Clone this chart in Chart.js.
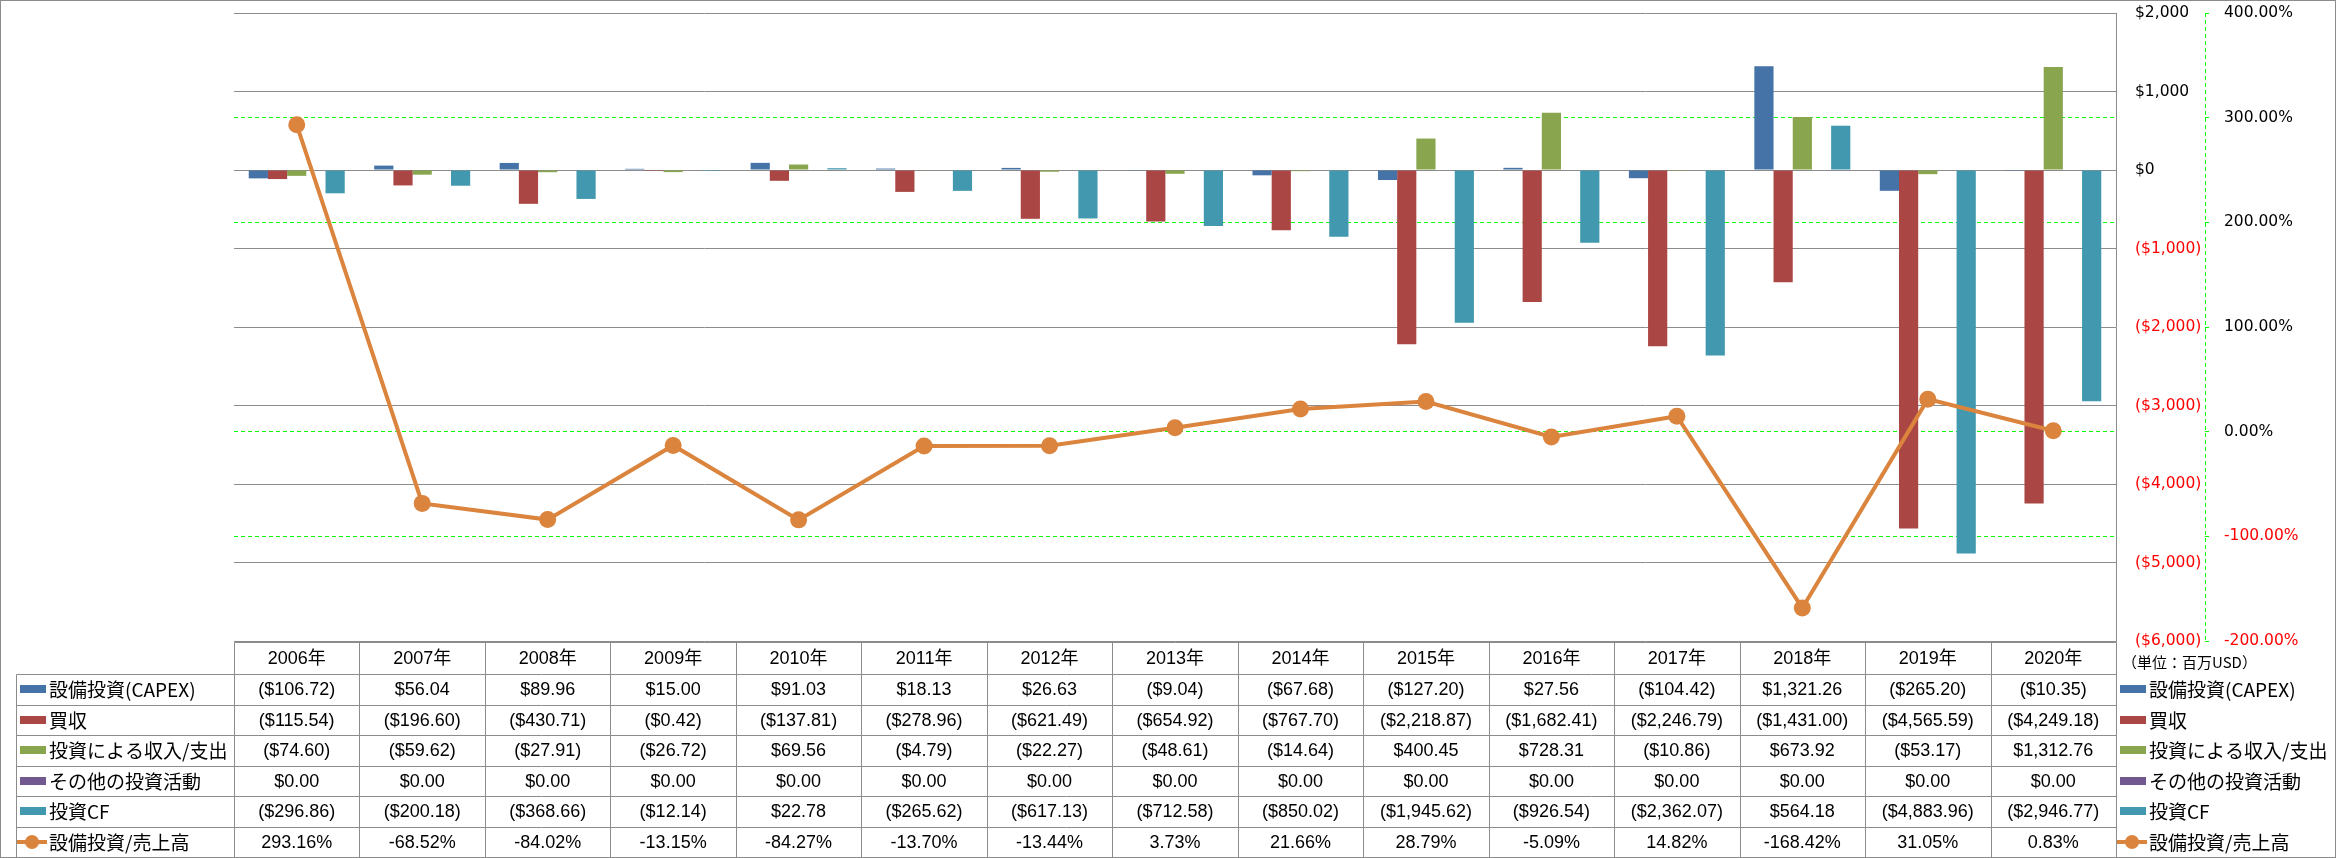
<!DOCTYPE html>
<html lang="ja">
  <head>
    <meta charset="UTF-8" />
    <title>設備投資と投資CF</title>
    <script src="https://cdn.jsdelivr.net/npm/chart.js@4"></script>
    <style>
      html, body { margin: 0; padding: 0; background: #fff; }
      canvas { display: block; }
    </style>
  </head>
  <body>
    <canvas id="myChart" width="2336" height="858"></canvas>
    <script>
      const years = ["2006", "2007", "2008", "2009", "2010", "2011", "2012", "2013", "2014", "2015", "2016", "2017", "2018", "2019", "2020"];
      const capex = [-106.72, 56.04, 89.96, 15.0, 91.03, 18.13, 26.63, -9.04, -67.68, -127.2, 27.56, -104.42, 1321.26, -265.2, -10.35];
      const acquisitions = [-115.54, -196.6, -430.71, -0.42, -137.81, -278.96, -621.49, -654.92, -767.7, -2218.87, -1682.41, -2246.79, -1431.0, -4565.59, -4249.18];
      const investIncome = [-74.6, -59.62, -27.91, -26.72, 69.56, -4.79, -22.27, -48.61, -14.64, 400.45, 728.31, -10.86, 673.92, -53.17, 1312.76];
      const otherInvest = [0, 0, 0, 0, 0, 0, 0, 0, 0, 0, 0, 0, 0, 0, 0];
      const investCF = [-296.86, -200.18, -368.66, -12.14, 22.78, -265.62, -617.13, -712.58, -850.02, -1945.62, -926.54, -2362.07, 564.18, -4883.96, -2946.77];
      const capexRatio = [293.16, -68.52, -84.02, -13.15, -84.27, -13.7, -13.44, 3.73, 21.66, 28.79, -5.09, 14.82, -168.42, 31.05, 0.83];

      const names = ["設備投資(CAPEX)", "買収", "投資による収入/支出", "その他の投資活動", "投資CF", "設備投資/売上高"];
      const colors = ["#4572A7", "#AA4643", "#89A54E", "#71588F", "#4198AF", "#DB843D"];
      const unitLabel = "（単位：百万USD）";

      function money(v) {
        const s = "$" + Math.abs(v).toLocaleString("en-US", { minimumFractionDigits: 2, maximumFractionDigits: 2 });
        return v < 0 ? "(" + s + ")" : s;
      }
      function moneyTick(v) {
        const s = "$" + Math.abs(v).toLocaleString("en-US");
        return v < 0 ? "(" + s + ")" : s;
      }

      const numFont = '18px "Liberation Sans", "Noto Sans CJK JP", sans-serif';
      const jpFont = '19px "Noto Sans CJK JP", sans-serif';

      // draws the data table under the plot, the side legend and the frame
      const tablePlugin = {
        id: "dataTable",
        afterDraw(chart) {
          const ctx = chart.ctx;
          const area = chart.chartArea;
          const x = chart.scales.x;
          const y1 = chart.scales.y1;
          const colW = (area.right - area.left) / years.length;
          const top = area.bottom + 1;
          const headH = 32;
          const rowH = 30.5;
          const left = 16;
          const rows = [capex, acquisitions, investIncome, otherInvest, investCF, capexRatio];

          ctx.save();
          // dashed axis line of the % scale
          ctx.strokeStyle = "#00ff00";
          ctx.lineWidth = 1;
          ctx.setLineDash([4, 3]);
          ctx.beginPath();
          ctx.moveTo(Math.round(y1.left) + 0.5, y1.top);
          ctx.lineTo(Math.round(y1.left) + 0.5, y1.bottom);
          ctx.stroke();
          ctx.setLineDash([]);

          // table lines
          ctx.strokeStyle = "#8c8c8c";
          ctx.beginPath();
          const R = Math.round(area.right) + 0.5;
          ctx.moveTo(Math.round(area.left) + 0.5, Math.round(top) + 0.5);
          ctx.lineTo(R, Math.round(top) + 0.5);
          for (let r = 0; r <= rows.length; r++) {
            const yy = Math.round(top + headH + r * rowH) + 0.5;
            ctx.moveTo(left + 0.5, yy);
            ctx.lineTo(R, yy);
          }
          const bottom = top + headH + rows.length * rowH;
          ctx.moveTo(left + 0.5, Math.round(top + headH) + 0.5);
          ctx.lineTo(left + 0.5, bottom);
          for (let i = 0; i <= years.length; i++) {
            const xx = Math.round(area.left + i * colW) + 0.5;
            ctx.moveTo(xx, Math.round(top) + 0.5);
            ctx.lineTo(xx, bottom);
          }
          ctx.stroke();

          // header and values
          ctx.fillStyle = "#000";
          ctx.textAlign = "center";
          ctx.textBaseline = "middle";
          ctx.font = numFont;
          years.forEach((yr, i) => {
            const cx = x.getPixelForValue(i);
            ctx.fillText(yr + "年", cx, top + headH / 2 + 1);
            rows.forEach((vals, r) => {
              const txt = r === 5 ? vals[i].toFixed(2) + "%" : money(vals[i]);
              ctx.fillText(txt, cx, top + headH + r * rowH + rowH / 2 + 1);
            });
          });

          // legend keys on both sides
          function key(kx, r) {
            const cy = Math.round(top + headH + r * rowH + rowH / 2);
            ctx.fillStyle = colors[r];
            if (r === 5) {
              ctx.strokeStyle = colors[r];
              ctx.lineWidth = 4;
              ctx.beginPath();
              ctx.moveTo(kx - 3, cy);
              ctx.lineTo(kx + 27, cy);
              ctx.stroke();
              ctx.beginPath();
              ctx.arc(kx + 12, cy, 7, 0, Math.PI * 2);
              ctx.fill();
            } else {
              ctx.fillRect(kx, cy - 4, 26, 8);
            }
            ctx.fillStyle = "#000";
            ctx.textAlign = "left";
            ctx.font = jpFont;
            ctx.fillText(names[r], kx + 29, cy + 1);
          }
          for (let r = 0; r < rows.length; r++) {
            key(20, r);
            key(Math.round(area.right) + 4, r);
          }

          ctx.font = '15px "Noto Sans CJK JP", sans-serif';
          ctx.textAlign = "left";
          ctx.fillText(unitLabel, Math.round(area.right) + 6, top + 20);

          // outer frame
          ctx.strokeStyle = "#8c8c8c";
          ctx.lineWidth = 1;
          ctx.strokeRect(0.5, 0.5, chart.width - 1, chart.height - 1);
          ctx.restore();
        }
      };

      const barSet = (i, data) => ({
        type: "bar",
        label: names[i],
        data: data,
        backgroundColor: colors[i],
        borderWidth: 0,
        yAxisID: "y",
        order: 1,
        categoryPercentage: 0.765,
        barPercentage: 1.0
      });

      // fixed axis box: width set by hand, label overhang kept small
      const fitAxis = (w) => (scale) => {
        scale.width = w;
        scale.paddingTop = 8;
        scale.paddingBottom = 8;
      };

      const ctx = document.getElementById("myChart").getContext("2d");
      const chart = new Chart(ctx, {
        data: {
          labels: years,
          datasets: [
            barSet(0, capex),
            barSet(1, acquisitions),
            barSet(2, investIncome),
            barSet(3, otherInvest),
            barSet(4, investCF),
            {
              type: "line",
              label: names[5],
              data: capexRatio,
              yAxisID: "y1",
              order: 0,
              borderColor: colors[5],
              backgroundColor: colors[5],
              borderWidth: 4,
              tension: 0,
              pointRadius: 8.5,
              pointBorderWidth: 0,
              pointBackgroundColor: colors[5]
            }
          ]
        },
        options: {
          responsive: false,
          devicePixelRatio: 1,
          animation: false,
          layout: { autoPadding: false, padding: { left: 234, top: 13, bottom: 217, right: 0 } },
          plugins: { legend: { display: false }, tooltip: { enabled: false } },
          scales: {
            x: { display: false, offset: true },
            y: {
              position: "right",
              min: -6000,
              max: 2000,
              afterFit: fitAxis(89),
              ticks: {
                stepSize: 1000,
                padding: 19,
                color: (c) => (c.tick && c.tick.value < 0 ? "#ff0000" : "#000000"),
                font: { family: "DejaVu Sans", size: 15.5 },
                callback: (v) => moneyTick(v)
              },
              grid: { color: "#8c8c8c", lineWidth: 1, drawTicks: false },
              border: { display: true, color: "#8c8c8c", width: 1 }
            },
            y1: {
              position: "right",
              min: -200,
              max: 400,
              afterFit: fitAxis(131),
              ticks: {
                stepSize: 100,
                padding: 15,
                color: (c) => (c.tick && c.tick.value < 0 ? "#ff0000" : "#000000"),
                font: { family: "DejaVu Sans", size: 15.5 },
                callback: (v) => v.toFixed(2) + "%"
              },
              grid: {
                color: (c) => (c.tick && [400, 100, -200].includes(c.tick.value) ? "rgba(0,0,0,0)" : "#00ff00"),
                lineWidth: 1,
                tickLength: 4,
                tickColor: "#00ff00"
              },
              border: { display: false, dash: [4, 3] }
            }
          }
        },
        plugins: [tablePlugin]
      });
    </script>
  </body>
</html>
